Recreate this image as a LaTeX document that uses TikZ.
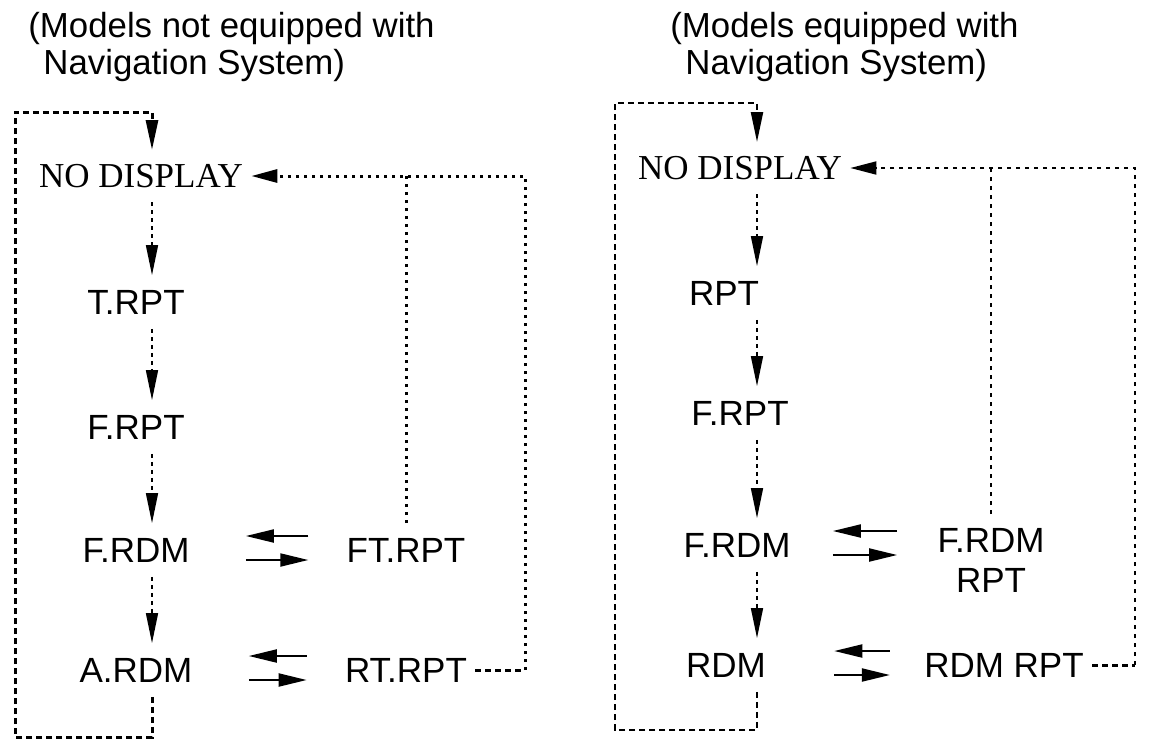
\documentclass[tikz,border=0pt]{standalone}
\usepackage{fontspec}
\setmainfont{Liberation Serif}
\setsansfont{Liberation Sans}
\usetikzlibrary{arrows.meta,calc}

\tikzset{
  lbl/.style={font=\sffamily\fontsize{17.5}{20}\selectfont,inner xsep=4pt,inner ysep=7pt},
  state/.style={lbl,text height=12.5pt,text depth=0pt},
  blank/.style={font=\rmfamily\fontsize{17.5}{20}\selectfont,text height=11.6pt,text depth=0pt,inner xsep=4pt,inner ysep=7pt},
  title/.style={font=\sffamily\fontsize{17.4}{20}\selectfont,anchor=base west,inner sep=0pt},
  down/.style={line width=0.8pt,dash pattern=on 2pt off 2pt,-{Triangle[length=15pt,width=6pt]}},
  swap/.style={line width=1pt,-{Triangle[length=14pt,width=6.5pt]}},
  loopline/.style={line width=1.5pt,dash pattern=on 3pt off 2pt},
  fb/.style={line width=1.5pt,dash pattern=on 1.5pt off 2.5pt},
  fbthin/.style={line width=0.9pt,dash pattern=on 2pt off 2.5pt},
  backtip/.style={-{Triangle[length=13pt,width=6.5pt]}},
}

\begin{document}
\begin{tikzpicture}[x=0.5pt,y=-0.5pt]
\useasboundingbox (0,0) rectangle (1151,740);

% without navigation system
\node[title] (ttla) at (28,37) {(Models not equipped with};
\node[title] (ttlb) at (43,74) {Navigation System)};
\node[blank] (lnd) at (141,176) {NO DISPLAY};
\foreach \n/\t/\y in {ltr/T.RPT/302,lfr/F.RPT/427,lfd/F.RDM/550,lad/A.RDM/670}
  \node[state] (\n) at (136,\y) {\t};
\node[state] (lft) at (406,550) {FT.RPT};
\node[state] (lrt) at (406,670) {RT.RPT};

\coordinate (lc) at (152,0);
\coordinate (lbl) at (15,737);
\coordinate (ltl) at (15,112);
\coordinate (lfb) at (525,176);
\foreach \a/\b in {lnd/ltr,ltr/lfr,lfr/lfd,lfd/lad}
  \draw[down] (\a.south -| lc) -- (\b.north -| lc);
\draw[loopline,-{Triangle[length=15pt,width=6pt]}] (lad.south -| lc) |- (lbl) -- (ltl) -| (lnd.north -| lc);
\draw[loopline] (lrt.east) -- (lrt.east -| lfb);
\draw[fb,backtip] (lrt.east -| lfb) -- (lfb) -- (lnd.east);
\draw[fb] (lft.north) -- (lft.north |- lfb);

% with navigation system
\node[title] (ttlc) at (670,37) {(Models equipped with};
\node[title] (ttld) at (685,74) {Navigation System)};
\node[blank] (rnd) at (740,168) {NO DISPLAY};
\foreach \n/\t/\x/\y in {rrp/RPT/724/293,rfr/F.RPT/740/413,rfd/F.RDM/737/545,rdm/RDM/726/665}
  \node[state] (\n) at (\x,\y) {\t};
\node[lbl,align=center,anchor=north] (rfp) at (991,514) {F.RDM\\RPT};
\node[state] (rdr) at (1004,665) {RDM RPT};

\coordinate (rc) at (757,0);
\coordinate (rbl) at (615,730);
\coordinate (rtl) at (615,103);
\coordinate (rfb) at (1135,168);
\foreach \a/\b in {rnd/rrp,rrp/rfr,rfr/rfd,rfd/rdm}
  \draw[down] (\a.south -| rc) -- (\b.north -| rc);
\draw[loopline,line width=1.1pt,-{Triangle[length=15pt,width=6pt]}] (rdm.south -| rc) |- (rbl) -- (rtl) -| (rnd.north -| rc);
\draw[loopline] (rdr.east) -- (rdr.east -| rfb);
\draw[fbthin,backtip] (rdr.east -| rfb) -- (rfb) -- (rnd.east);
\draw[fbthin] (rfp.north) -- (rfp.north |- rfb);

% paired arrows
\foreach \a/\b/\s/\e in {lfd/lft/24/15,lad/lrt/24/15,rfd/rfp/17/16,rdm/rdr/30/13}{
  \draw[swap] ($(\a.east -| \b.west)+(-\e pt,7pt)$) -- ($(\a.east)+(\s pt,7pt)$);
  \draw[swap] ($(\a.east)+(\s pt,-5pt)$) -- ($(\a.east -| \b.west)+(-\e pt,-5pt)$);
}
\end{tikzpicture}
\end{document}
